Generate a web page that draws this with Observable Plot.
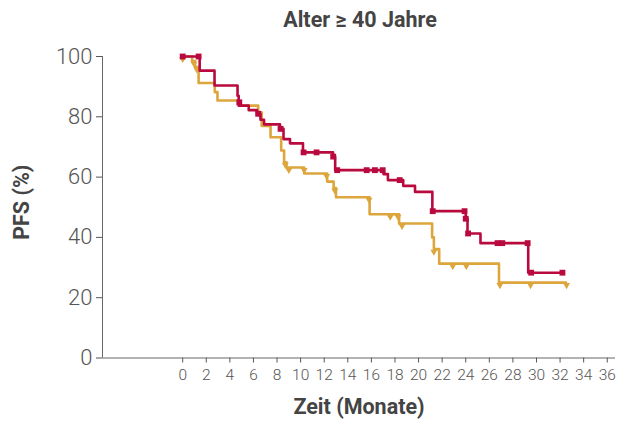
<!DOCTYPE html>
<html>
<head>
<meta charset="utf-8">
<script src="https://cdn.jsdelivr.net/npm/d3@7"></script>
<script src="https://cdn.jsdelivr.net/npm/@observablehq/plot@0.6"></script>
<style>
  html, body { margin: 0; padding: 0; background: #fff; }
  #title { width: 619px; height: 40px; line-height: 40px; box-sizing: border-box; padding-left: 101px;
    text-align: center; font-family: Roboto, sans-serif; font-weight: 700; font-size: 21.5px; color: #444; }
  svg g[aria-label="y-axis tick label"] text, svg g[aria-label="x-axis tick label"] text { font-weight: 300; }
</style>
</head>
<body>
<div id="title">Alter ≥ 40 Jahre</div>
<div id="chart"></div>
<script>
// Red curve (steps)
const redT = [0, 1.44, 2.7, 4.65, 4.75, 5.6, 6.3, 6.6, 6.9, 8.25, 8.55, 9.1, 10.2, 12.75, 12.93, 17.03, 17.4, 18.7, 19.7, 21.17, 24.0, 24.15, 25.25, 29.3, 32.2];
const redS = [100, 95.3, 90.4, 87, 83.7, 82.2, 81, 79, 77.5, 76, 72.6, 71.2, 68.2, 66.8, 62.3, 61, 59, 57.1, 55.1, 48.7, 46.2, 41.3, 38.1, 28.3, 28.3];
// Red censor marks
const redCT = [0, 1.35, 4.8, 6.4, 8.3, 10.25, 11.35, 12.76, 13.1, 15.6, 16.3, 16.96, 18.4, 21.2, 23.9, 24.0, 24.2, 26.7, 27.1, 29.25, 29.55, 32.2];
const redCS = [100, 100, 84.8, 81, 76, 68.2, 68.2, 66.8, 62.3, 62.3, 62.3, 62.3, 59, 48.7, 48.7, 46.2, 41.3, 38.1, 38.1, 38.1, 28.3, 28.3];
// Gold curve (steps)
const goldT = [0, 0.8, 1.05, 1.35, 2.72, 2.95, 4.8, 6.4, 6.7, 7.45, 8.35, 8.6, 8.8, 10.3, 12.25, 12.8, 13.0, 15.85, 18.35, 21.15, 21.3, 21.75, 26.82, 32.5];
const goldS = [100, 98.5, 96.5, 91.2, 88.2, 85.4, 83.7, 81.5, 77, 73.2, 68.8, 64.9, 63.2, 61.2, 58.5, 56.4, 53.3, 47.7, 44.6, 40, 36.1, 31.3, 25, 25];
// Gold censor marks
const goldCT = [0, 0.95, 1.2, 6.55, 8.7, 9.0, 10.3, 12.2, 12.9, 15.8, 17.6, 18.25, 18.6, 21.3, 22.9, 24.05, 26.9, 29.5, 32.55];
const goldCS = [100, 98.5, 96.5, 81.5, 64.9, 63.2, 63.2, 61.2, 56.4, 53.3, 47.7, 47.7, 44.6, 36.1, 31.3, 31.3, 25, 25, 25];

const xTicks = d3.range(0, 37, 2);
const yTicks = [0, 20, 40, 60, 80, 100];
const xLabel = "Zeit (Monate)";
const yLabel = "PFS (%)";

const RED = "#b90a3f";
const GOLD = "#dca63c";

const red = redT.map((t, i) => ({t, s: redS[i]}));
const gold = goldT.map((t, i) => ({t, s: goldS[i]}));
const redC = redCT.map((t, i) => ({t, s: redCS[i]}));
const goldC = goldCT.map((t, i) => ({t, s: goldCS[i]}));

const chart = Plot.plot({
  width: 619,
  height: 385,
  marginTop: 16,
  marginBottom: 67.5,
  marginLeft: 102,
  marginRight: 4,
  style: {fontFamily: "Roboto, sans-serif", background: "#fff", overflow: "visible"},
  x: {domain: [-6.8, 36.7]},
  y: {domain: [0, 100]},
  marks: [
    Plot.axisX({ticks: xTicks, tickSize: 5, tickPadding: 6, fontSize: 15.5, color: "#555", label: null}),
    Plot.axisY({ticks: yTicks, tickSize: 6, tickPadding: 4, fontSize: 22, color: "#555", label: null}),
    Plot.ruleY([0], {stroke: "#666", strokeWidth: 1}),
    Plot.ruleX([-6.8], {stroke: "#666", strokeWidth: 1}),
    Plot.line(gold, {x: "t", y: "s", curve: "step-after", stroke: GOLD, strokeWidth: 2.6}),
    Plot.dot(goldC, {x: "t", y: "s", symbol: "triangle", rotate: 180, r: 2.6, dy: 2.5, fill: GOLD, stroke: "none"}),
    Plot.line(red, {x: "t", y: "s", curve: "step-after", stroke: RED, strokeWidth: 2.6}),
    Plot.dot(redC, {x: "t", y: "s", symbol: "square", r: 3.3, fill: RED, stroke: "none"}),
    Plot.text([xLabel], {frameAnchor: "bottom", dy: 56, fontSize: 21.5, fontWeight: 700, fill: "#444"}),
    Plot.text([yLabel], {frameAnchor: "left", textAnchor: "middle", dx: -80, dy: -5, rotate: -90, fontSize: 21.5, fontWeight: 700, fill: "#444"})
  ]
});
document.getElementById("chart").appendChild(chart);
</script>
</body>
</html>
